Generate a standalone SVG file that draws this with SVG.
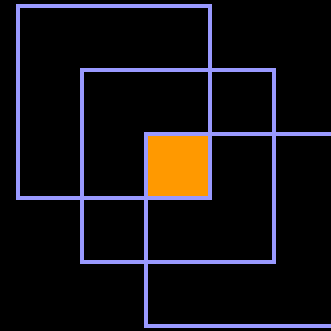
<svg xmlns="http://www.w3.org/2000/svg" width="331" height="331" viewBox="0 0 331 331">
<style>
.sq{fill:none;stroke:#9999ff;stroke-width:4}
</style>
<rect x="0" y="0" width="331" height="331" fill="#000000"/>
<rect id="overlap" x="146" y="134" width="64" height="64" fill="#ff9900"/>
<g id="squares">
<rect id="square1" class="sq" x="18" y="6" width="192" height="192"/>
<rect id="square2" class="sq" x="82" y="70" width="192" height="192"/>
<rect id="square3" class="sq" x="146" y="134" width="192" height="192"/>
</g>
</svg>
